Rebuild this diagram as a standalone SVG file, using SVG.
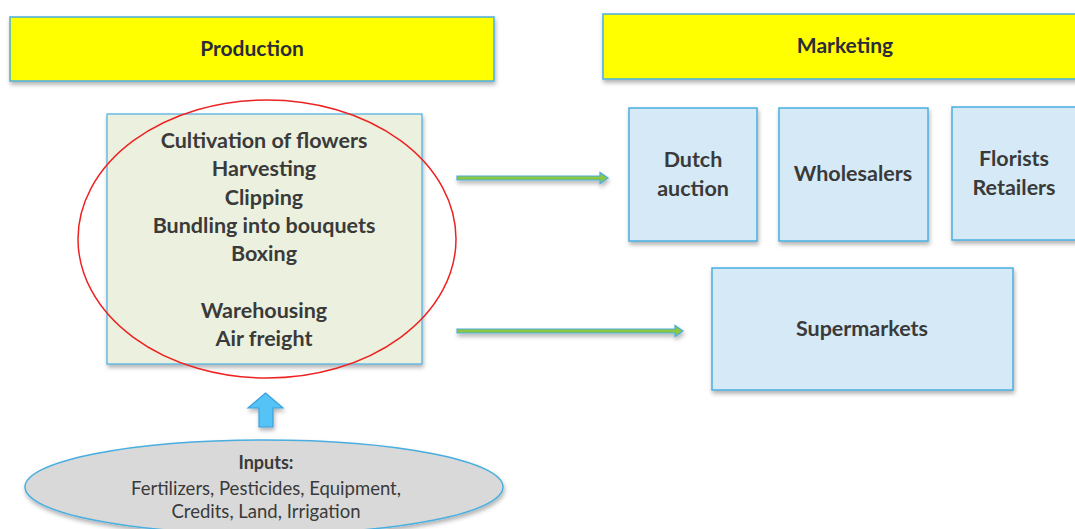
<svg xmlns="http://www.w3.org/2000/svg" width="1075" height="529" viewBox="0 0 1075 529">
<style>
.hdr{fill:#ffff00;stroke:#4aaee0;stroke-width:1.5}
.mk{fill:#d5eaf6;stroke:#4aaee0;stroke-width:1.5}
.t{font-family:Lato,"Liberation Sans",sans-serif;font-weight:bold;fill:#3a3a3a;text-anchor:middle}
.h{font-size:21px;fill:#2b2b3a}
.b{font-size:21.5px}
.s{font-family:Lato,"Liberation Sans",sans-serif;font-size:18.5px;fill:#3a3a3a;text-anchor:middle}
.sh{filter:url(#ds)}
</style>
<defs>
<filter id="ds" x="-10%" y="-10%" width="120%" height="130%">
<feDropShadow dx="1" dy="3" stdDeviation="2" flood-color="#000" flood-opacity="0.3"/>
</filter>
</defs>
<rect width="1075" height="529" fill="#fff"/>
<g id="production">
<rect class="hdr sh" x="10" y="17" width="484" height="64"/>
<text class="t h" x="252" y="56">Production</text>
</g>
<g id="marketing">
<rect class="hdr sh" x="603" y="14" width="480" height="65"/>
<text class="t h" x="845" y="53">Marketing</text>
</g>
<g id="activities">
<rect class="sh" x="107" y="114" width="315" height="250" fill="#ebf1de" stroke="#4aaee0" stroke-width="1.2"/>
<ellipse cx="267" cy="239" rx="189" ry="139" fill="none" stroke="#ee2222" stroke-width="1.5"/>
<text class="t b" x="264" y="148">Cultivation of flowers</text>
<text class="t b" x="264" y="176">Harvesting</text>
<text class="t b" x="264" y="205">Clipping</text>
<text class="t b" x="264" y="233">Bundling into bouquets</text>
<text class="t b" x="264" y="261">Boxing</text>
<text class="t b" x="264" y="318">Warehousing</text>
<text class="t b" x="264" y="346">Air freight</text>
</g>
<g id="dutch">
<rect class="mk sh" x="629" y="108" width="128" height="133"/>
<text class="t b" x="693" y="167">Dutch</text>
<text class="t b" x="693" y="196">auction</text>
</g>
<g id="wholesalers">
<rect class="mk sh" x="779" y="108" width="149" height="133"/>
<text class="t b" x="853" y="181">Wholesalers</text>
</g>
<g id="florists">
<rect class="mk sh" x="952" y="107" width="130" height="133"/>
<text class="t b" x="1014" y="166">Florists</text>
<text class="t b" x="1014" y="195">Retailers</text>
</g>
<g id="supermarkets">
<rect class="mk sh" x="712" y="268" width="301" height="122"/>
<text class="t b" x="862" y="336">Supermarkets</text>
</g>
<g id="inputs">
<ellipse class="sh" cx="264" cy="487" rx="239" ry="47" fill="#d9d9d9" stroke="#4aaee0" stroke-width="1.5"/>
<text class="t" style="font-size:18px" x="266" y="469">Inputs:</text>
<text class="s" x="266" y="495">Fertilizers, Pesticides, Equipment,</text>
<text class="s" x="266" y="518">Credits, Land, Irrigation</text>
</g>
<g id="connectors">
<g class="sh">
<path d="M457 176 H600 V172.5 L608 178 L600 183.5 V180 H457 Z" fill="#8dc63f" stroke="#4aaee0" stroke-width="1.2"/>
<path d="M457 329 H675 V325.5 L683 331 L675 336.5 V333 H457 Z" fill="#8dc63f" stroke="#4aaee0" stroke-width="1.2"/>
<path d="M259 427 V408 H248 L265.5 393 L283 408 H273 V427 Z" fill="#55c3f5" stroke="#3aa0dd" stroke-width="1.2"/>
</g>
</g>
</svg>
